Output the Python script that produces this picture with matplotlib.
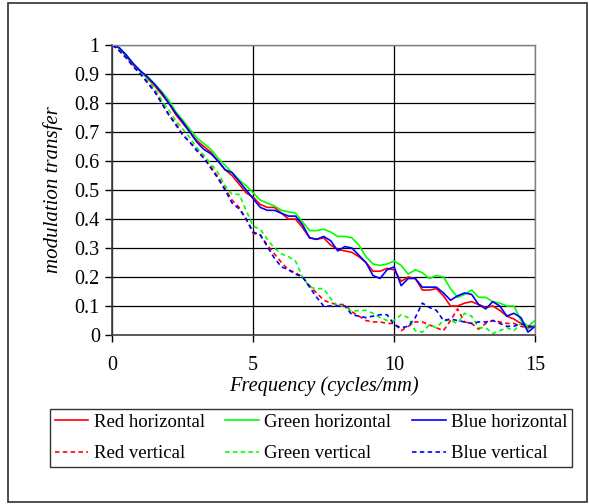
import matplotlib
matplotlib.use("Agg")
import matplotlib.pyplot as plt
from matplotlib.patches import Rectangle

plt.rcParams['font.family'] = ['Liberation Serif', 'DejaVu Serif']

# spatial frequency samples (cycles/mm)
freq = [i * 0.25 for i in range(61)]

red_h = [1.0, 0.99, 0.96, 0.93, 0.91, 0.885, 0.86, 0.83, 0.80, 0.76,
         0.73, 0.70, 0.67, 0.65, 0.63, 0.60, 0.57, 0.55, 0.52, 0.49,
         0.475, 0.45, 0.44, 0.44, 0.42, 0.40, 0.40, 0.37, 0.335, 0.33,
         0.335, 0.31, 0.295, 0.29, 0.285, 0.27, 0.25, 0.22, 0.22, 0.23,
         0.225, 0.185, 0.20, 0.195, 0.155, 0.155, 0.16, 0.135, 0.10, 0.10,
         0.11, 0.115, 0.105, 0.095, 0.10, 0.085, 0.065, 0.055, 0.04, 0.025,
         0.03]
green_h = [1.0, 0.99, 0.965, 0.935, 0.91, 0.89, 0.865, 0.84, 0.81, 0.77,
           0.74, 0.71, 0.68, 0.66, 0.64, 0.61, 0.585, 0.56, 0.535, 0.515,
           0.49, 0.465, 0.455, 0.445, 0.43, 0.425, 0.42, 0.39, 0.36, 0.36,
           0.365, 0.355, 0.34, 0.34, 0.335, 0.31, 0.27, 0.245, 0.24, 0.245,
           0.255, 0.24, 0.21, 0.225, 0.215, 0.195, 0.205, 0.20, 0.16, 0.13,
           0.14, 0.155, 0.13, 0.13, 0.115, 0.11, 0.10, 0.10, 0.05, 0.03,
           0.05]
blue_h = [1.0, 0.99, 0.965, 0.935, 0.91, 0.89, 0.865, 0.835, 0.80, 0.765,
          0.735, 0.70, 0.665, 0.64, 0.625, 0.60, 0.57, 0.56, 0.53, 0.50,
          0.47, 0.44, 0.43, 0.43, 0.42, 0.41, 0.41, 0.38, 0.335, 0.33,
          0.34, 0.325, 0.29, 0.305, 0.30, 0.275, 0.25, 0.205, 0.195, 0.225,
          0.235, 0.17, 0.195, 0.195, 0.165, 0.165, 0.165, 0.145, 0.12, 0.135,
          0.145, 0.14, 0.105, 0.09, 0.115, 0.10, 0.065, 0.075, 0.06, 0.01,
          0.03]
red_v = [1.0, 0.98, 0.955, 0.925, 0.90, 0.87, 0.84, 0.80, 0.76, 0.73,
         0.69, 0.665, 0.64, 0.61, 0.58, 0.545, 0.505, 0.465, 0.44, 0.40,
         0.35, 0.345, 0.31, 0.28, 0.25, 0.225, 0.215, 0.20, 0.17, 0.145,
         0.12, 0.11, 0.105, 0.105, 0.08, 0.065, 0.05, 0.045, 0.045, 0.04,
         0.04, 0.015, 0.03, 0.045, 0.045, 0.035, 0.025, 0.015, 0.05, 0.09,
         0.045, 0.04, 0.02, 0.04, 0.05, 0.045, 0.04, 0.04, 0.03, 0.025,
         0.03]
green_v = [1.0, 0.985, 0.96, 0.93, 0.905, 0.88, 0.85, 0.81, 0.775, 0.74,
           0.71, 0.68, 0.645, 0.62, 0.59, 0.56, 0.515, 0.485, 0.485, 0.43,
           0.375, 0.365, 0.33, 0.30, 0.28, 0.27, 0.255, 0.20, 0.165, 0.16,
           0.16, 0.125, 0.10, 0.10, 0.08, 0.085, 0.085, 0.075, 0.06, 0.05,
           0.05, 0.07, 0.06, 0.015, 0.01, 0.035, 0.025, 0.05, 0.05, 0.04,
           0.075, 0.065, 0.025, 0.025, 0.005, 0.015, 0.025, 0.015, 0.04, 0.02,
           0.035]
blue_v = [1.0, 0.98, 0.955, 0.925, 0.90, 0.87, 0.84, 0.80, 0.76, 0.725,
          0.69, 0.665, 0.635, 0.61, 0.575, 0.54, 0.50, 0.455, 0.435, 0.40,
          0.355, 0.345, 0.305, 0.265, 0.235, 0.225, 0.21, 0.20, 0.165, 0.13,
          0.10, 0.10, 0.10, 0.10, 0.07, 0.065, 0.06, 0.065, 0.07, 0.07,
          0.035, 0.025, 0.03, 0.06, 0.11, 0.095, 0.085, 0.05, 0.055, 0.05,
          0.045, 0.04, 0.045, 0.045, 0.05, 0.04, 0.03, 0.03, 0.04, 0.03,
          0.03]

fig = plt.figure(figsize=(5.89, 5.04), dpi=100)
ax = fig.add_axes([0.1907, 0.3353, 0.7177, 0.5754])

lw = 1.2
dash = (0, (2.7, 2.0))
ax.plot(freq, red_h, color='#ff0000', lw=lw, label='Red horizontal')
ax.plot(freq, red_v, color='#ff0000', lw=lw, ls=dash, label='Red vertical')
ax.plot(freq, green_h, color='#00ff00', lw=lw, label='Green horizontal')
ax.plot(freq, green_v, color='#00ff00', lw=lw, ls=dash, label='Green vertical')
ax.plot(freq, blue_h, color='#0000ff', lw=lw, label='Blue horizontal')
ax.plot(freq, blue_v, color='#0000ff', lw=lw, ls=dash, label='Blue vertical')

ax.set_xlim(0, 15)
ax.set_ylim(0, 1)
ax.set_xticks([0, 5, 10, 15])
ax.set_yticks([i / 10 for i in range(11)])
ax.set_yticklabels(['0', '0.1', '0.2', '0.3', '0.4', '0.5', '0.6', '0.7',
                    '0.8', '0.9', '1'])
ax.grid(True, color='black', lw=0.9)
ax.set_axisbelow(True)
ax.tick_params(axis='y', direction='out', length=5, width=1, labelsize=14.5, pad=4)
ax.tick_params(axis='x', direction='out', length=5, width=1, labelsize=14.5, pad=10)
for side in ['left', 'bottom']:
    ax.spines[side].set_color('#404040')
    ax.spines[side].set_linewidth(1.2)
for side in ['top', 'right']:
    ax.spines[side].set_color('#808080')
    ax.spines[side].set_linewidth(1.0)

ax.set_xlabel('Frequency (cycles/mm)', fontsize=14.7, style='italic', labelpad=1)
ax.set_ylabel('modulation transfer', fontsize=15, style='italic', labelpad=8)

fig.legend(loc='center', ncol=3, bbox_to_anchor=(0.0849, 0.0694, 0.8862, 0.123),
           mode='expand', fontsize=13.5, frameon=True, fancybox=False,
           edgecolor='black', handlelength=1.8, handletextpad=0.27,
           columnspacing=0.8, labelspacing=0.75, borderaxespad=0,
           borderpad=0.25)
fig.legends[0].get_frame().set_linewidth(1.0)

# outer chart frame
fig.patches.append(Rectangle((8 / 589, 2 / 504), 579 / 589, 499 / 504,
                             transform=fig.transFigure, fill=False,
                             edgecolor='#303030', lw=1.2))

fig.savefig('out.png', dpi=100)
